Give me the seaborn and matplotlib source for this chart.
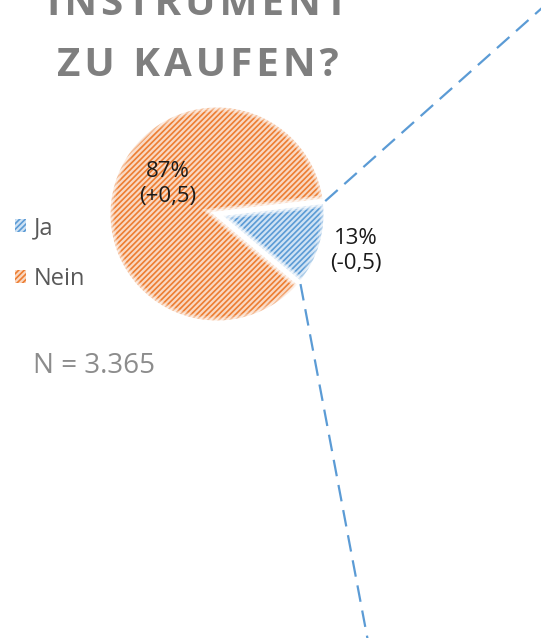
import matplotlib

matplotlib.use("Agg")
import matplotlib.pyplot as plt
import numpy as np
import seaborn as sns
from matplotlib.patches import Patch

answers = ["Ja", "Nein"]
shares = [13, 87]
changes = ["-0,5", "+0,5"]
fill_colors = ["#CFE2F4", "#F9D8C2"]
hatch_colors = ["#5B9BD5", "#ED7D31"]
title_lines = ["INSTRUMENT", "ZU KAUFEN?"]
sample_note = "N = 3.365"

W, H = 541, 638


def spaced(text: str) -> str:
    # hair spaces for the letter-spaced title
    return "\u200a".join(text)


def main() -> None:
    sns.set_theme(style="white")
    plt.rcParams["font.family"] = ["Open Sans", "DejaVu Sans"]
    plt.rcParams["hatch.linewidth"] = 1.2

    fig = plt.figure(figsize=(W / 100, H / 100), dpi=100)
    ax = fig.add_axes([0, 0, 1, 1])

    center = (217, H - 214)
    radius = 109
    start = -40

    # light fill
    ax.pie(shares, colors=fill_colors, startangle=start, center=center, radius=radius,
           frame=True, wedgeprops=dict(linewidth=0))

    # hatch layer
    wedges, _ = ax.pie(shares, startangle=start, center=center, radius=radius, frame=True)
    for w, c in zip(wedges, hatch_colors):
        w.set_facecolor("none")
        w.set_edgecolor(c)
        w.set_hatch("//////")
        w.set_linewidth(0)

    # soft white edges
    for lw, alpha in [(9, 0.25), (6.5, 0.35), (3.6, 1.0)]:
        ax.pie(shares, startangle=start, center=center, radius=radius, frame=True,
               colors=["none", "none"],
               wedgeprops=dict(edgecolor=(1, 1, 1, alpha), linewidth=lw))

    # labels
    label_texts = [f"{s}%\n({c})" for s, c in zip(shares, changes)]
    label_pos = [(356, H - 251), (168, H - 184)]
    for txt, (x, y) in zip(label_texts, label_pos):
        ax.text(x, y, txt, ha="center", va="center", fontsize=16, color="#1a1a1a",
                linespacing=1.25)

    # connector lines toward the secondary chart
    total = sum(shares)
    edges = [start + 360 * shares[0] / total, start]
    directions = [41.7, -79.3]
    cx, cy = center
    for edge, direction in zip(edges, directions):
        t = np.deg2rad(edge)
        x0, y0 = cx + radius * np.cos(t), cy + radius * np.sin(t)
        d = np.deg2rad(direction)
        ax.plot([x0, x0 + 600 * np.cos(d)], [y0, y0 + 600 * np.sin(d)],
                color=hatch_colors[0], lw=1.6, ls=(0, (7.5, 4)), clip_on=False)

    ax.set_xlim(0, W)
    ax.set_ylim(0, H)
    ax.set_aspect("equal")
    ax.axis("off")

    handles = [Patch(facecolor=f, edgecolor=h, hatch="//////", linewidth=0)
               for f, h in zip(fill_colors, hatch_colors)]
    ax.legend(handles, answers, loc="center left", bbox_to_anchor=(15 / W, 1 - 253.5 / H),
              bbox_transform=fig.transFigure, frameon=False, fontsize=17,
              handlelength=0.45, handleheight=0.45, handletextpad=0.35,
              labelspacing=1.15, borderpad=0, borderaxespad=0, labelcolor="#595959")

    fig.text(33 / W, 1 - 373 / H, sample_note, fontsize=20, color="#8C8C8C",
             ha="left", va="baseline")

    for line, base in zip(title_lines, [15, 76]):
        fig.text(198 / W, 1 - base / H, spaced(line), fontsize=29, fontweight="bold",
                 color="#7F7F7F", ha="center", va="baseline")

    fig.savefig("out.png", dpi=100)
    plt.close(fig)


if __name__ == "__main__":
    main()
